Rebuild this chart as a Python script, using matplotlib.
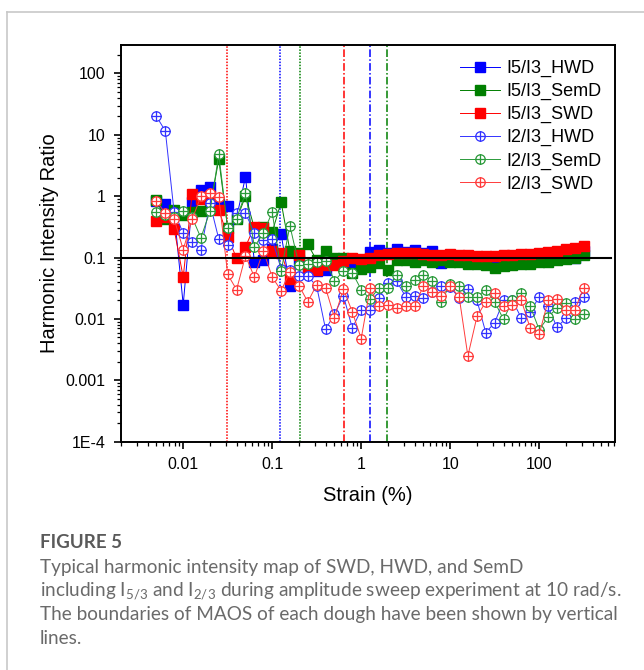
import matplotlib
matplotlib.use("Agg")
import matplotlib.pyplot as plt
from matplotlib.path import Path
from matplotlib.lines import Line2D
from matplotlib.ticker import LogLocator, FixedLocator, FixedFormatter, NullFormatter

plt.rcParams['font.family'] = ['Liberation Sans', 'DejaVu Sans']

# strain sweep (%), 10 points per decade
strain = [0.005, 0.0063, 0.0079, 0.01, 0.0126, 0.0158, 0.02, 0.0251, 0.0316, 0.0398,
          0.0501, 0.0631, 0.0794, 0.1, 0.126, 0.158, 0.2, 0.251, 0.316, 0.398,
          0.501, 0.631, 0.794, 1.0, 1.26, 1.58, 2.0, 2.51, 3.16, 3.98,
          5.01, 6.31, 7.94, 10, 12.6, 15.8, 20, 25.1, 31.6, 39.8,
          50.1, 63.1, 79.4, 100, 126, 158, 200, 251, 316]

i53_hwd = [0.85, 0.75, 0.55, 0.017, 0.8, 1.25, 1.4, 0.75, 0.69, 0.45,
           2.07, 0.084, 0.093, 0.14, 0.24, 0.034, 0.09, 0.065, 0.06, 0.063,
           0.085, 0.09, 0.085, 0.088, 0.125, 0.135, 0.12, 0.14, 0.125, 0.135,
           0.12, 0.13, 0.083, 0.1, 0.09, 0.1, 0.1, 0.1, 0.095, 0.085,
           0.1, 0.09, 0.1, 0.1, 0.105, 0.11, 0.115, 0.1, 0.13]
i53_semd = [0.88, 0.42, 0.6, 0.49, 0.55, 0.58, 0.65, 4.0, 0.3, 0.42,
            1.0, 0.3, 0.32, 0.26, 0.8, 0.13, 0.118, 0.165, 0.09, 0.13,
            0.1, 0.1, 0.057, 0.065, 0.07, 0.082, 0.063, 0.09, 0.09, 0.085,
            0.09, 0.085, 0.09, 0.085, 0.085, 0.08, 0.08, 0.075, 0.067, 0.072,
            0.075, 0.078, 0.08, 0.085, 0.085, 0.09, 0.095, 0.1, 0.11]
i53_swd = [0.39, 0.45, 0.29, 0.048, 1.1, 0.9, 1.0, 0.6, 0.22, 0.097,
           0.15, 0.32, 0.3, 0.13, 0.12, 0.044, 0.11, 0.063, 0.063, 0.075,
           0.076, 0.087, 0.1, 0.095, 0.1, 0.11, 0.115, 0.12, 0.12, 0.12,
           0.115, 0.11, 0.11, 0.115, 0.11, 0.11, 0.105, 0.105, 0.105, 0.11,
           0.11, 0.115, 0.115, 0.12, 0.125, 0.13, 0.14, 0.145, 0.155]
i23_hwd = [20, 11.5, 0.55, 0.25, 0.18, 0.135, 0.76, 0.2, 0.16, 0.53,
           0.53, 0.25, 0.19, 0.2, 0.065, 0.063, 0.05, 0.05, 0.034, 0.0068,
           0.012, 0.024, 0.0071, 0.014, 0.014, 0.022, 0.038, 0.041, 0.023, 0.024,
           0.022, 0.027, 0.035, 0.033, 0.022, 0.031, 0.02, 0.006, 0.0087, 0.02,
           0.02, 0.0103, 0.013, 0.023, 0.016, 0.0073, 0.0103, 0.019, 0.023]
i23_semd = [0.56, 0.5, 0.45, 0.58, 0.45, 0.21, 0.57, 4.8, 0.3, 0.43,
            1.13, 0.15, 0.25, 0.55, 0.06, 0.33, 0.075, 0.078, 0.085, 0.088,
            0.042, 0.06, 0.057, 0.03, 0.021, 0.032, 0.032, 0.052, 0.034, 0.043,
            0.052, 0.041, 0.019, 0.037, 0.034, 0.023, 0.023, 0.03, 0.019, 0.0098,
            0.02, 0.026, 0.016, 0.0067, 0.0107, 0.015, 0.018, 0.0098, 0.012]
i23_swd = [0.83, 0.53, 0.43, 0.135, 0.42, 1.0, 1.13, 0.97, 0.053, 0.03,
           0.107, 0.048, 0.13, 0.048, 0.029, 0.058, 0.035, 0.019, 0.036, 0.032,
           0.0105, 0.031, 0.013, 0.0048, 0.032, 0.016, 0.017, 0.015, 0.016, 0.016,
           0.035, 0.028, 0.024, 0.034, 0.023, 0.0025, 0.011, 0.019, 0.026, 0.016,
           0.017, 0.02, 0.007, 0.0056, 0.02, 0.021, 0.014, 0.014, 0.032]

# MAOS boundaries (strain %)
maos_start = {'SWD': 0.031, 'HWD': 0.122, 'SemD': 0.203}
maos_end = {'SWD': 0.64, 'HWD': 1.24, 'SemD': 1.96}

y_ticks = [1e-4, 1e-3, 1e-2, 1e-1, 1, 10, 100]
y_labels = ['1E-4', '0.001', '0.01', '0.1', '1', '10', '100']
x_ticks = [0.01, 0.1, 1, 10, 100]
x_labels = ['0.01', '0.1', '1', '10', '100']

sq_col = {'HWD': '#0000ff', 'SemD': '#007f00', 'SWD': '#ff0000'}
op_col = {'HWD': '#3333ff', 'SemD': '#2a9a3a', 'SWD': '#ff3b3b'}

# circle-plus marker
oplus = Path.make_compound_path(
    Path.unit_circle(),
    Path([[-1, 0], [1, 0], [0, -1], [0, 1]],
         [Path.MOVETO, Path.LINETO, Path.MOVETO, Path.LINETO]))

fig = plt.figure(figsize=(6.44, 6.70), dpi=100)
ax = fig.add_axes([0.1879, 0.3407, 0.767, 0.5921])

squares = [('HWD', i53_hwd), ('SemD', i53_semd), ('SWD', i53_swd)]
circles = [('HWD', i23_hwd), ('SemD', i23_semd), ('SWD', i23_swd)]

handles = []
for name, vals in squares:
    h, = ax.plot(strain, vals, color=sq_col[name], lw=0.7, marker='s', ms=7.2,
                 mec=sq_col[name], mfc=sq_col[name], label=f'I5/I3_{name}', zorder=3)
    handles.append(h)
for name, vals in circles:
    h, = ax.plot(strain, vals, color=op_col[name], lw=0.7, marker=oplus, ms=6.8,
                 mec=op_col[name], mfc='white', mew=0.9, label=f'I2/I3_{name}', zorder=4)
    handles.append(h)

for name, x in maos_start.items():
    ax.axvline(x, color=sq_col[name], ls=(0, (1, 1)), lw=1.1, zorder=2)
for name, x in maos_end.items():
    ax.axvline(x, color=sq_col[name], ls=(0, (5, 1.5, 1, 1.5)), lw=1.1, zorder=2)

ax.axhline(0.1, xmax=0.993, color='black', lw=1.5, zorder=5)

ax.set_xscale('log')
ax.set_yscale('log')
ax.set_xlim(0.002, 710)
ax.set_ylim(1e-4, 290)

ax.yaxis.set_major_locator(FixedLocator(y_ticks))
ax.yaxis.set_major_formatter(FixedFormatter(y_labels))
ax.yaxis.set_minor_locator(LogLocator(base=10, subs=range(2, 10), numticks=20))
ax.yaxis.set_minor_formatter(NullFormatter())
ax.xaxis.set_major_locator(FixedLocator(x_ticks))
ax.xaxis.set_major_formatter(FixedFormatter(x_labels))
ax.xaxis.set_minor_locator(LogLocator(base=10, subs=range(2, 10), numticks=20))
ax.xaxis.set_minor_formatter(NullFormatter())

for s in ax.spines.values():
    s.set_linewidth(1.4)
ax.tick_params(which='major', direction='out', length=5, width=1.2, labelsize=11.5,
               top=False, right=False, pad=6)
ax.tick_params(which='minor', direction='out', length=3, width=0.9, top=False, right=False)

ax.set_xlabel('Strain (%)', fontsize=14.5, labelpad=10)
ax.set_ylabel('Harmonic Intensity Ratio', fontsize=14.5, labelpad=5)

ax.legend(handles=handles, loc='upper right', bbox_to_anchor=(0.995, 0.99),
          frameon=False, fontsize=13, handlelength=2.2, handletextpad=0.35,
          labelspacing=0.33, borderaxespad=0.2)

# page frame and caption
fig.add_artist(Line2D([7 / 644, 1.0], [1 - 12 / 670, 1 - 12 / 670],
                      color='#c8c8c8', lw=1.2))
fig.add_artist(Line2D([7 / 644, 7 / 644], [0, 1 - 12 / 670], color='#c8c8c8', lw=1.2))

plt.rcParams['mathtext.fontset'] = 'custom'
plt.rcParams['mathtext.rm'] = 'Lato'
cap_font = ['Lato', 'DejaVu Sans']
fig.text(40 / 644, 1 - 543 / 670, 'FIGURE 5', family=cap_font, fontsize=13.5,
         fontweight='bold', color='#5a5a5a', va='center')
caption = ['Typical harmonic intensity map of SWD, HWD, and SemD',
           r'including I$_{\mathregular{5/3}}$ and I$_{\mathregular{2/3}}$ during amplitude sweep experiment at 10 rad/s.',
           'The boundaries of MAOS of each dough have been shown by vertical',
           'lines.']
for i, line in enumerate(caption):
    fig.text(40 / 644, 1 - (568 + 23.4 * i) / 670, line, family=cap_font,
             fontsize=13.7, color='#6a6a6a', va='center')

fig.savefig('out.png', dpi=100)
